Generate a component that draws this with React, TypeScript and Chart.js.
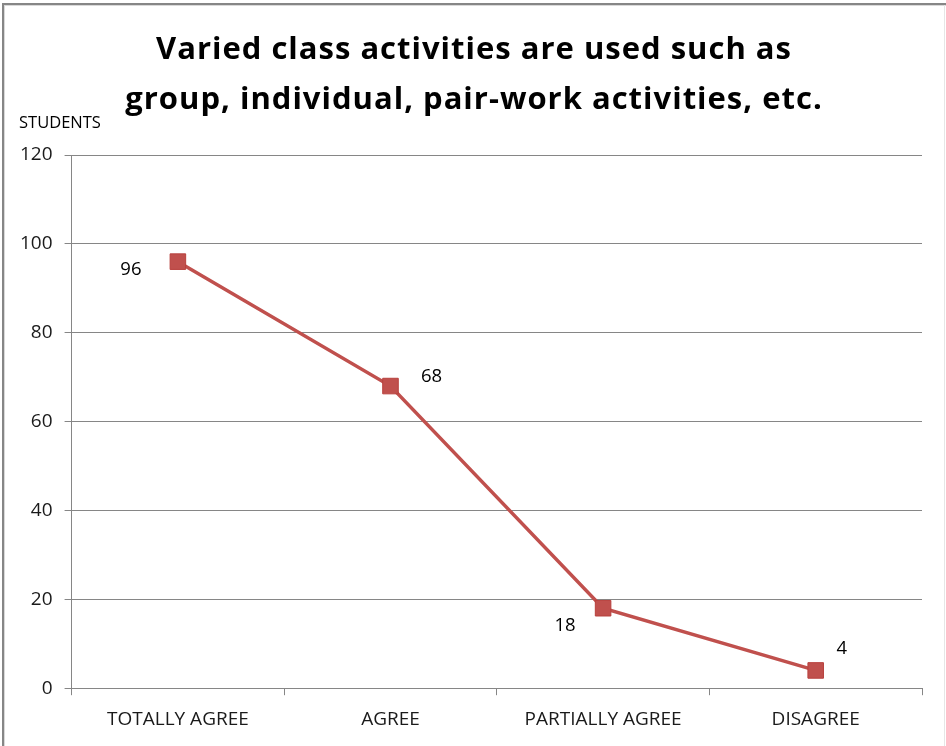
import React, { useEffect, useRef } from "react";
import { Chart, registerables } from "chart.js";

Chart.register(...registerables);

const titleLines = ["Varied class activities are used such as", "group, individual, pair-work activities, etc."];
const yAxisTitle = "STUDENTS";
const categories = ["TOTALLY AGREE", "AGREE", "PARTIALLY AGREE", "DISAGREE"];
const studentValues = [96, 68, 18, 4];
const yTicks = [0, 20, 40, 60, 80, 100, 120];
// label placement relative to each point (dx, dy in px)
const labelOffsets = [
  [-47, 8],
  [41, -9],
  [-38, 18],
  [26, -22],
];

const FONT = "'Open Sans', Lato, sans-serif";
const RED = "#C0504D";
const GRID = "#868686";

const decorPlugin = {
  id: "decor",
  beforeDraw(chart: any) {
    const { ctx, width, height } = chart;
    ctx.save();
    ctx.fillStyle = "#ffffff";
    ctx.fillRect(0, 0, width, height);
    // frame
    ctx.fillStyle = "#868686";
    ctx.fillRect(2, 3, width - 2, 2);
    ctx.fillRect(2, 3, 2, height - 3);
    ctx.fillStyle = "#d9d9d9";
    ctx.fillRect(4, 5, width - 4, 1);
    ctx.fillRect(4, 5, 1, height - 5);
    ctx.fillStyle = "#e6e6e6";
    ctx.fillRect(width - 2, 5, 1, height - 5);
    ctx.restore();
  },
  afterDraw(chart: any) {
    const { ctx, width } = chart;
    ctx.save();
    ctx.fillStyle = "#000000";
    // title
    ctx.font = `bold 31px ${FONT}`;
    ctx.textAlign = "center";
    ctx.textBaseline = "middle";
    (ctx as any).letterSpacing = "1px";
    ctx.fillText(titleLines[0], width / 2 + 1, 50);
    ctx.fillText(titleLines[1], width / 2 + 1, 100);
    (ctx as any).letterSpacing = "0px";
    // axis title
    ctx.font = `16.5px ${FONT}`;
    ctx.textAlign = "left";
    ctx.fillText(yAxisTitle, 19, 123);
    // data labels
    ctx.font = `18.5px ${FONT}`;
    ctx.textAlign = "center";
    const meta = chart.getDatasetMeta(0);
    meta.data.forEach((pt: any, i: number) => {
      const [dx, dy] = labelOffsets[i];
      ctx.fillText(String(studentValues[i]), pt.x + dx, pt.y + dy);
    });
    ctx.restore();
  },
};

export default function App() {
  const ref = useRef<HTMLCanvasElement | null>(null);
  useEffect(() => {
    document.body.style.margin = "0";
    const chart = new Chart(ref.current!, {
      type: "line",
      data: {
        labels: categories,
        datasets: [
          {
            data: studentValues,
            borderColor: RED,
            backgroundColor: RED,
            borderWidth: 3.5,
            pointStyle: "rect",
            pointRadius: 11,
            pointBorderColor: "#B8403D",
            pointBorderWidth: 1,
            pointBackgroundColor: RED,
            tension: 0,
          },
        ],
      },
      plugins: [decorPlugin],
      options: {
        responsive: false,
        animation: false,
        devicePixelRatio: 1,
        layout: { padding: { top: 155, left: 8, right: 24, bottom: 2 } },
        plugins: {
          legend: { display: false },
          tooltip: { enabled: false },
          title: { display: false },
        },
        scales: {
          x: {
            offset: true,
            grid: {
              offset: true,
              drawOnChartArea: false,
              drawTicks: true,
              tickLength: 7,
              color: GRID,
            },
            border: { color: GRID, width: 1 },
            ticks: {
              color: "#1a1a1a",
              font: { family: FONT, size: 19 },
              padding: 13,
              maxRotation: 0,
            },
          },
          y: {
            min: 0,
            max: 120,
            afterBuildTicks: (axis: any) => {
              axis.ticks = yTicks.map((v) => ({ value: v }));
            },
            grid: { color: GRID, tickLength: 7, lineWidth: 1 },
            border: { color: GRID, width: 1 },
            ticks: {
              color: "#1a1a1a",
              font: { family: FONT, size: 19 },
              padding: 12,
            },
          },
        },
      } as any,
    });
    return () => chart.destroy();
  }, []);
  return (
    <div style={{ width: 946, height: 746 }}>
      <canvas ref={ref} width={946} height={746} style={{ display: "block" }} />
    </div>
  );
}
